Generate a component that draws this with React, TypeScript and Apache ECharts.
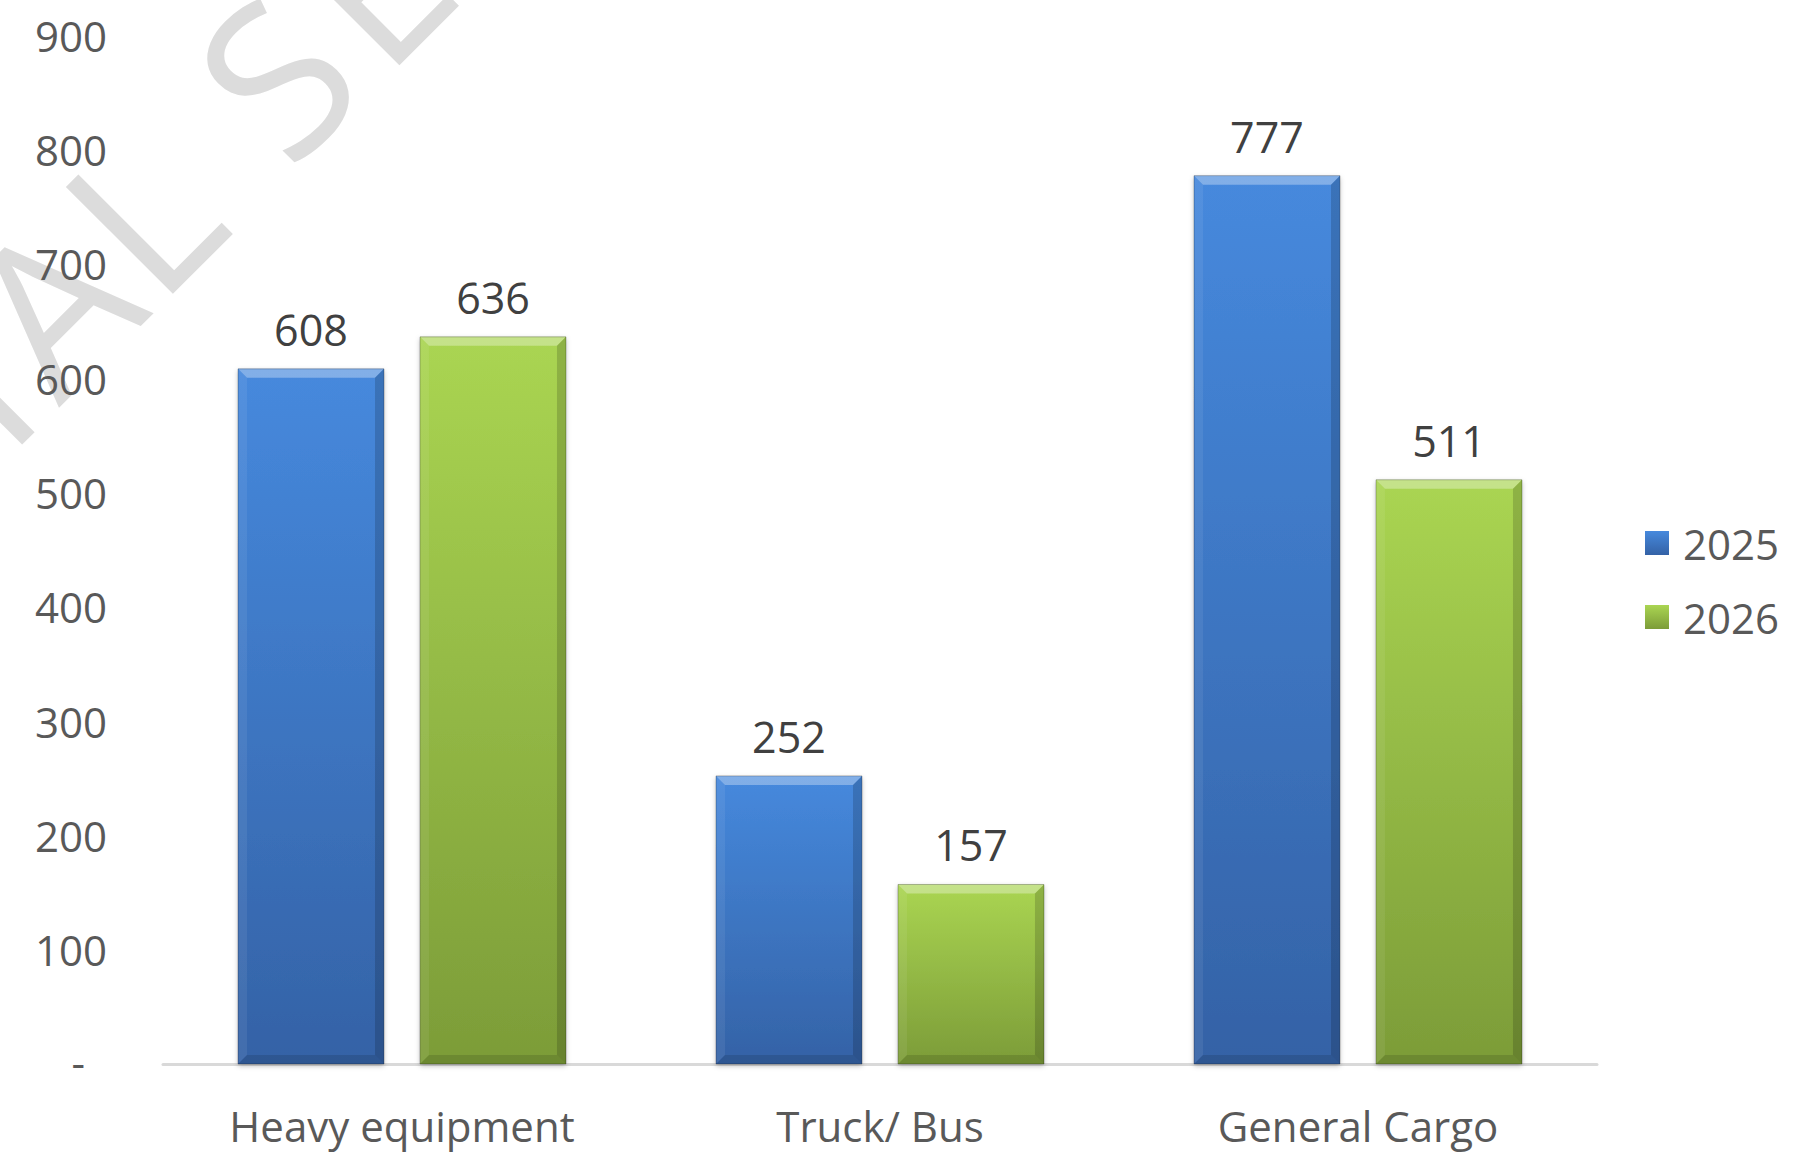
import React, { useEffect, useRef } from "react";
import * as echarts from "echarts";

const categories = ["Heavy equipment", "Truck/ Bus", "General Cargo"];
const seriesNames = ["2025", "2026"];
const values2025 = [608, 252, 777];
const values2026 = [636, 157, 511];
const yMin = 0;
const yMax = 900;
const yStep = 100;

const FONT = "Open Sans";
const BAR_RATIO = 0.3054;
const GAP_RATIO = 0.0753;

const blueFill = new echarts.graphic.LinearGradient(0, 0, 0, 1, [
  { offset: 0, color: "#4689dd" },
  { offset: 1, color: "#3462a6" },
]);
const greenFill = new echarts.graphic.LinearGradient(0, 0, 0, 1, [
  { offset: 0, color: "#aad552" },
  { offset: 1, color: "#7c9c38" },
]);

function bevel(side: number) {
  return (params: any, api: any) => {
    const cat = api.value(0);
    const val = api.value(1);
    const base = api.coord([cat, 0]);
    const top = api.coord([cat, val]);
    const band = api.size([1, 0])[0];
    const w = band * BAR_RATIO;
    const gap = band * GAP_RATIO;
    const cx = base[0] + side * (w + gap) / 2;
    const x0 = cx - w / 2;
    const x1 = cx + w / 2;
    const y0 = top[1];
    const y1 = base[1];
    const b = 9;
    return {
      type: "group",
      children: [
        {
          type: "polygon",
          shape: { points: [[x0, y0], [x1, y0], [x1 - b, y0 + b], [x0 + b, y0 + b]] },
          style: { fill: "rgba(255,255,255,0.32)" },
        },
        {
          type: "polygon",
          shape: { points: [[x0, y0], [x0 + b, y0 + b], [x0 + b, y1 - b], [x0, y1]] },
          style: { fill: "rgba(255,255,255,0.07)" },
        },
        {
          type: "polygon",
          shape: { points: [[x1, y0], [x1, y1], [x1 - b, y1 - b], [x1 - b, y0 + b]] },
          style: { fill: "rgba(0,0,0,0.16)" },
        },
        {
          type: "polygon",
          shape: { points: [[x0, y1], [x0 + b, y1 - b], [x1 - b, y1 - b], [x1, y1]] },
          style: { fill: "rgba(0,0,0,0.12)" },
        },
        {
          type: "rect",
          shape: { x: x0, y: y0, width: w, height: y1 - y0 },
          style: { fill: "none", stroke: "rgba(0,0,0,0.25)", lineWidth: 1 },
        },
      ],
    };
  };
}

const wmStyle = { fill: "#dcdcdc", fontFamily: FONT, fontSize: 212, align: "center", verticalAlign: "middle" };
const wmLetter = (t: string, x: number, y: number) => ({
  type: "text",
  x,
  y,
  rotation: Math.PI / 4,
  z: -10,
  silent: true,
  style: { ...wmStyle, text: t },
});

export default function App() {
  const ref = useRef<HTMLDivElement>(null);
  useEffect(() => {
    if (!ref.current) return;
    const chart = echarts.init(ref.current, undefined, { renderer: "svg" });
    const labelStyle = {
      show: true,
      position: "top",
      distance: 18,
      color: "#404040",
      fontFamily: FONT,
      fontSize: 43,
    };
    chart.setOption({
      animation: false,
      backgroundColor: "#ffffff",
      graphic: [
        wmLetter("I", -30, 380),
        wmLetter("A", 48, 302),
        wmLetter("L", 139, 211),
        wmLetter("S", 273, 74),
        wmLetter("E", 368, -20),
      ],
      legend: {
        orient: "vertical",
        left: 1645,
        top: 522,
        padding: 0,
        data: seriesNames,
        icon: "rect",
        itemWidth: 24,
        itemHeight: 24,
        itemGap: 32,
        textStyle: { color: "#595959", fontFamily: FONT, fontSize: 42, padding: [0, 0, 0, 9] },
      },
      grid: { left: 163, right: 214, top: 35, bottom: 91, containLabel: false },
      xAxis: {
        type: "category",
        data: categories,
        axisLine: { show: true, lineStyle: { color: "#d9d9d9", width: 3 } },
        axisTick: { show: false },
        axisLabel: { color: "#595959", fontFamily: FONT, fontSize: 42, margin: 40 },
      },
      yAxis: {
        type: "value",
        min: yMin,
        max: yMax,
        interval: yStep,
        axisLine: { show: false },
        axisTick: { show: false },
        splitLine: { show: false },
        axisLabel: {
          color: "#595959",
          fontFamily: FONT,
          fontSize: 42,
          margin: 56,
          formatter: (v: number) => (v === 0 ? "{z|-}" : String(v)),
          rich: { z: { color: "#595959", fontFamily: FONT, fontSize: 42, padding: [0, 22, 6, 0] } },
        },
      },
      series: [
        {
          name: seriesNames[0],
          type: "bar",
          data: values2025,
          barWidth: (BAR_RATIO * 100).toFixed(2) + "%",
          barGap: ((GAP_RATIO / BAR_RATIO) * 100).toFixed(1) + "%",
          itemStyle: { color: blueFill, shadowColor: "rgba(0,0,0,0.25)", shadowBlur: 5, shadowOffsetY: 2 },
          label: labelStyle,
          z: 2,
        },
        {
          name: seriesNames[1],
          type: "bar",
          data: values2026,
          barWidth: (BAR_RATIO * 100).toFixed(2) + "%",
          barGap: ((GAP_RATIO / BAR_RATIO) * 100).toFixed(1) + "%",
          itemStyle: { color: greenFill, shadowColor: "rgba(0,0,0,0.25)", shadowBlur: 5, shadowOffsetY: 2 },
          label: labelStyle,
          z: 2,
        },
        {
          name: "bevel2025",
          type: "custom",
          silent: true,
          renderItem: bevel(-1),
          data: values2025.map((v, i) => [i, v]),
          encode: { x: 0, y: 1 },
          z: 3,
        },
        {
          name: "bevel2026",
          type: "custom",
          silent: true,
          renderItem: bevel(1),
          data: values2026.map((v, i) => [i, v]),
          encode: { x: 0, y: 1 },
          z: 3,
        },
      ],
    });
    return () => chart.dispose();
  }, []);
  return (
    <div
      ref={ref}
      style={{ position: "fixed", left: 0, top: 0, width: 1811, height: 1155, background: "#fff" }}
    />
  );
}
